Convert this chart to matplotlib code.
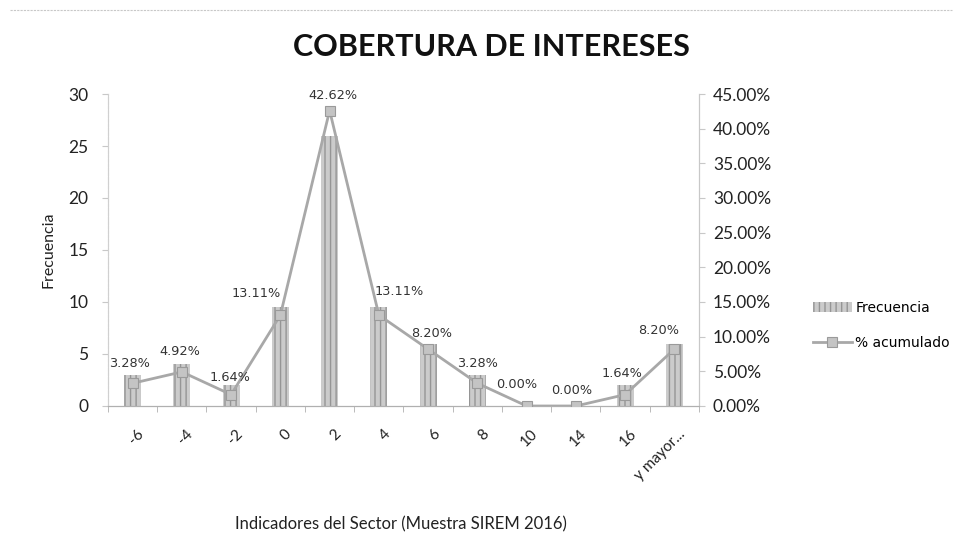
import numpy as np
import matplotlib.pyplot as plt
import matplotlib.transforms as mtransforms
from matplotlib.ticker import FuncFormatter, MultipleLocator

# ---- data ----
categorias = ["-6", "-4", "-2", "0", "2", "4", "6", "8", "10", "14", "16", "y mayor..."]
frecuencia = [3, 4, 2, 9.5, 26, 9.5, 6, 3, 0, 0, 2, 6]
porcentaje = [3.28, 4.92, 1.64, 13.11, 42.62, 13.11, 8.20, 3.28, 0.00, 0.00, 1.64, 8.20]

# label offsets in pixels (dx, dy) from each line point
label_off = [(-3, 20), (-2, 20), (-1, 17), (-24, 22), (3, 15), (20, 24),
             (4, 16), (0, 20), (-10, 22), (-4, 15), (-3, 21), (-16, 19)]

W, H = 962, 556
fig = plt.figure(figsize=(W / 100, H / 100), dpi=100)
fig.patch.set_facecolor("white")

ax = fig.add_axes([108 / W, 1 - 406 / H, (699 - 108) / W, (406 - 94) / H])
ax2 = ax.twinx()

x = np.arange(len(categorias))
bar_face = "#cbcbcb"
bar_hatch = "#959595"
line_col = "#a8a8a8"

ax.bar(x, frecuencia, width=0.35, color=bar_face, hatch="|||",
       edgecolor=bar_hatch, linewidth=0, label="Frecuencia", zorder=2)

ln, = ax2.plot(x, porcentaje, color=line_col, lw=2, marker="s", markersize=7,
               markerfacecolor="#c4c4c4", markeredgecolor="#9a9a9a",
               markeredgewidth=0.8, label="% acumulado", zorder=3)

for xi, p, (dx, dy) in zip(x, porcentaje, label_off):
    ax2.annotate(f"{p:.2f}%", (xi, p), xytext=(dx * 0.72, dy * 0.72),
                 textcoords="offset points", ha="center", va="center",
                 fontsize=9.3, family="DejaVu Sans", color="#333333")

# ---- axes ----
ax.set_xlim(-0.5, len(categorias) - 0.5)
ax.set_ylim(0, 30)
ax2.set_ylim(0, 45)
ax.yaxis.set_major_locator(MultipleLocator(5))
ax2.yaxis.set_major_locator(MultipleLocator(5))
ax2.yaxis.set_major_formatter(FuncFormatter(lambda v, _: f"{v:.2f}%"))

# category labels: rotated, right end sitting just right of each slot centre
ax.set_xticks(x)
ax.set_xticklabels([])
shift = mtransforms.ScaledTranslation(9 / 100, -26 / 100, fig.dpi_scale_trans)
for xi, cat in zip(x, categorias):
    ax.text(xi, 0, cat, transform=ax.get_xaxis_transform() + shift,
            rotation=45, rotation_mode="anchor", ha="right", va="center",
            fontsize=11, family="Lato", color="#222222")

ax.set_xticks(np.arange(-0.5, len(categorias)), minor=True)
ax.tick_params(axis="x", which="major", length=0)
ax.tick_params(axis="x", which="minor", length=4, color="#b0b0b0", direction="out")
ax.tick_params(axis="y", length=4, color="#c8c8c8", pad=10,
               labelsize=12.5, labelcolor="#222222")
ax2.tick_params(axis="y", length=4, color="#c8c8c8", pad=6,
                labelsize=12.5, labelcolor="#222222")
for lab in ax.get_yticklabels() + ax2.get_yticklabels():
    lab.set_family("Lato")

for a in (ax, ax2):
    a.spines["top"].set_visible(False)
    a.spines["left"].set_color("#d0d0d0")
    a.spines["right"].set_color("#c8c8c8")
    a.spines["bottom"].set_color("#b0b0b0")
    a.spines["left"].set_linewidth(0.8)
    a.spines["right"].set_linewidth(0.8)
    a.set_facecolor("none")
ax.spines["left"].set_linestyle((0, (2, 2)))

fig.text(48 / W, 1 - 250 / H, "Frecuencia", rotation=90, ha="center", va="center",
         fontsize=11.5, family="Lato", color="#222222")
fig.text(401 / W, 1 - 524 / H, "Indicadores del Sector (Muestra SIREM 2016)",
         ha="center", va="center", fontsize=12, family="Lato", color="#222222")
fig.text(491 / W, 1 - 47 / H, "COBERTURA DE INTERESES", ha="center", va="center",
         fontsize=22, family="Lato", fontweight="bold", color="#111111")

# faint page edge along the top
fig.add_artist(plt.Line2D([0.01, 0.99], [1 - 10 / H, 1 - 10 / H], transform=fig.transFigure,
                          color="#c8c8c8", lw=0.8, ls=(0, (2, 1))))

bars_handle = ax.containers[0].patches[0]
fig.legend([bars_handle, ln], ["Frecuencia", "% acumulado"],
           loc="upper left", bbox_to_anchor=(806 / W, 1 - 294 / H),
           frameon=False, handlelength=2.8, handletextpad=0.25,
           labelspacing=1.5, borderpad=0, prop={"family": "DejaVu Sans", "size": 10})

fig.savefig("out.png", dpi=100, facecolor="white")
